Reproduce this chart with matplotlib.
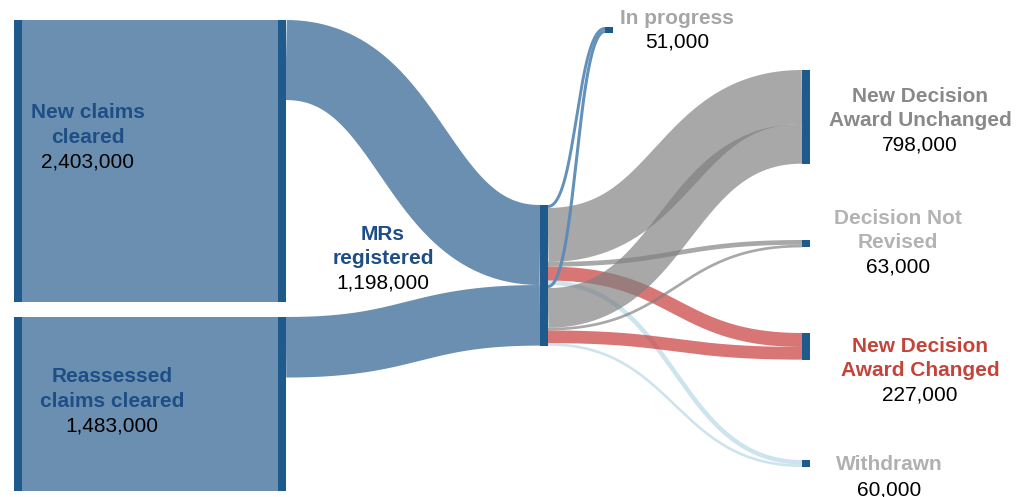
import numpy as np
import matplotlib
matplotlib.use("Agg")
import matplotlib.pyplot as plt

plt.rcParams['font.family'] = ['Liberation Sans', 'DejaVu Sans']

# node totals (labels)
source_names = ['New claims\ncleared', 'Reassessed\nclaims cleared']
source_values = [2403000, 1483000]
mr_name = 'MRs\nregistered'
mr_value = 1198000
outcome_names = ['In progress', 'New Decision\nAward Unchanged', 'Decision Not\nRevised',
                 'New Decision\nAward Changed', 'Withdrawn']
outcome_values = [51000, 798000, 63000, 227000, 60000]

# flows
to_mr = [682000, 516000]
from_new = [25000, 460000, 40000, 119000, 38000]
from_reassessed = [26000, 338000, 23000, 108000, 22000]

# styles / layout
box_col = '#6a8fb0'
bar_col = '#1f5a8c'
name_blue = '#1f4e87'
flow_cols = ['#5b8bb5', '#7f7f7f', '#7f7f7f', '#c83c3c', '#9cc8dc']
flow_alpha = [0.95, 0.68, 0.68, 0.7, 0.5]
outcome_txt_cols = ['#a6a6a6', '#898989', '#b3b3b3', '#c5443a', '#b0b0b0']

scale = 282 / 2403000.0   # pixels per claim
bw = 8
x_left, x_box_r, x_mr, x_prog, x_out = 14, 278, 540, 605, 802
src_tops = [20, 317]
mr_top = 205
out_tops = [27, 70, 240, 333, 460]
out_x = [x_prog, x_out, x_out, x_out, x_out]

fig = plt.figure(figsize=(10.17, 4.97), dpi=100)
ax = fig.add_axes([0, 0, 1, 1])
ax.set_xlim(0, 1017)
ax.set_ylim(497, 0)
ax.axis('off')

PT = 72 / 100.0  # points per pixel


def link(x0, x1, y0, y1, width, color, alpha):
    # d3 style link: bezier centre line stroked with the flow width
    t = np.linspace(0, 1, 300)
    xm = (x0 + x1) / 2
    x = x0*(1-t)**3 + 3*xm*(1-t)**2*t + 3*xm*(1-t)*t**2 + x1*t**3
    y = y0 + (y1 - y0)*(3*t**2 - 2*t**3)
    ax.plot(x, y, color=color, alpha=alpha, lw=max(width, 1.6)*PT,
            solid_capstyle='butt', zorder=2)


def bar(x, top, h):
    ax.add_patch(plt.Rectangle((x, top), bw, h, color=bar_col, zorder=5, lw=0))


# left boxes + flows into MRs
mr_y = mr_top
for i in range(2):
    h = source_values[i]*scale
    ax.add_patch(plt.Rectangle((x_left, src_tops[i]), x_box_r - x_left, h,
                               color=box_col, lw=0, zorder=1))
    bar(x_left, src_tops[i], h)
    bar(x_box_r, src_tops[i], h)
    fh = to_mr[i]*scale
    link(x_box_r + bw, x_mr, src_tops[i] + fh/2, mr_y + fh/2, fh, box_col, 1.0)
    mr_y += fh
bar(x_mr, mr_top, mr_value*scale)

# flows out of MRs
in_off = list(out_tops)
y = mr_top
for flows in [from_new, from_reassessed]:
    for j, v in enumerate(flows):
        fh = v*scale
        link(x_mr + bw, out_x[j], y + fh/2, in_off[j] + fh/2, fh,
             flow_cols[j], flow_alpha[j])
        y += fh
        in_off[j] += fh

for j in range(5):
    bar(out_x[j], out_tops[j], outcome_values[j]*scale)


def label(x, y, name, value, color, step=24.5):
    lines = name.split('\n')
    for k, ln in enumerate(lines):
        ax.text(x, y + k*step, ln, color=color, fontsize=15, fontweight='bold',
                ha='center', va='center', zorder=6)
    ax.text(x, y + len(lines)*step, f'{value:,}', color='black', fontsize=15,
            ha='center', va='center', zorder=6)


label(88, 113, source_names[0], source_values[0], name_blue)
label(112, 377, source_names[1], source_values[1], name_blue)
label(383, 234, mr_name, mr_value, name_blue)
out_lab_pos = [(677, 18), (920, 96), (898, 218), (920, 346), (889, 465)]
for j in range(5):
    lx, ly = out_lab_pos[j]
    label(lx, ly, outcome_names[j], outcome_values[j], outcome_txt_cols[j])

fig.savefig('out.png', dpi=100)
